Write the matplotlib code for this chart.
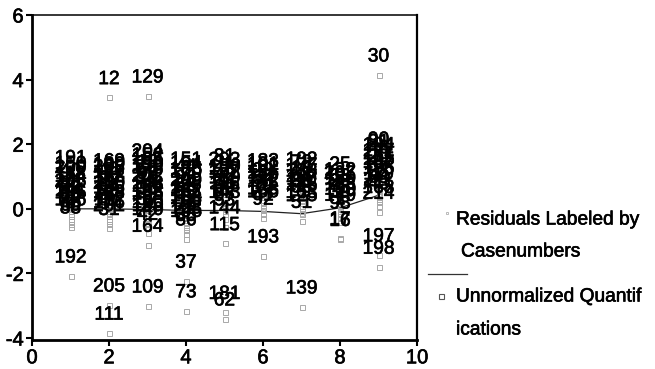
import matplotlib
matplotlib.use("Agg")
import matplotlib.pyplot as plt
import matplotlib.patheffects as pe
from matplotlib.lines import Line2D

plt.rcParams['font.family'] = ['Liberation Sans', 'DejaVu Sans']

# Category index, case numbers and residuals for each category
cat1_cases = [191, 150, 200, 40, 118, 174, 3, 206, 95, 22, 58, 141, 186, 66, 79, 126, 9, 60, 88, 192]
cat1_resid = [1.00, 0.82, 0.70, 0.60, 0.51, 0.43, 0.35, 0.27, 0.20, 0.13, 0.06, -0.01, -0.08, -0.15, -0.22, -0.30, -0.38, -0.46, -0.55, -2.07]

cat2_cases = [169, 180, 208, 45, 121, 7, 153, 99, 27, 210, 64, 136, 83, 188, 5, 47, 112, 176, 201, 31, 12, 205, 111]
cat2_resid = [0.90, 0.80, 0.72, 0.64, 0.56, 0.49, 0.42, 0.35, 0.28, 0.21, 0.14, 0.07, 0.00, -0.07, -0.14, -0.22, -0.30, -0.38, -0.48, -0.60, 3.45, -2.97, -3.84]

cat3_cases = [204, 152, 155, 13, 130, 178, 50, 93, 202, 19, 71, 148, 184, 36, 103, 165, 8, 57, 120, 199, 140, 42, 129, 164, 109]
cat3_resid = [1.20, 1.08, 0.97, 0.87, 0.78, 0.69, 0.60, 0.52, 0.44, 0.36, 0.28, 0.20, 0.12, 0.04, -0.04, -0.12, -0.20, -0.29, -0.38, -0.48, -0.60, -0.75, 3.50, -1.12, -3.00]

cat4_cases = [151, 154, 44, 135, 170, 2, 96, 209, 24, 68, 147, 182, 55, 104, 158, 11, 76, 123, 195, 35, 86, 37, 73]
cat4_resid = [0.95, 0.84, 0.74, 0.65, 0.56, 0.47, 0.39, 0.31, 0.23, 0.15, 0.07, -0.01, -0.09, -0.17, -0.26, -0.35, -0.45, -0.55, -0.66, -0.78, -0.92, -2.23, -3.15]

cat5_cases = [81, 203, 21, 100, 137, 172, 48, 189, 14, 116, 69, 6, 143, 97, 53, 144, 115, 181, 62]
cat5_resid = [1.05, 0.94, 0.84, 0.74, 0.65, 0.56, 0.47, 0.38, 0.29, 0.20, 0.11, 0.02, -0.07, -0.16, -0.30, -0.55, -1.07, -3.20, -3.40]

cat6_cases = [183, 101, 162, 29, 185, 117, 54, 142, 74, 10, 133, 166, 41, 92, 193]
cat6_resid = [0.90, 0.80, 0.71, 0.62, 0.53, 0.44, 0.36, 0.28, 0.20, 0.12, 0.04, -0.05, -0.15, -0.28, -1.45]

cat7_cases = [102, 72, 177, 18, 138, 61, 187, 110, 33, 146, 85, 4, 163, 125, 51, 139]
cat7_resid = [0.95, 0.86, 0.77, 0.68, 0.59, 0.50, 0.42, 0.34, 0.26, 0.18, 0.10, 0.02, -0.07, -0.17, -0.38, -3.03]

cat8_cases = [25, 132, 207, 63, 159, 26, 113, 78, 190, 39, 149, 1, 98, 17, 16]
cat8_resid = [0.80, 0.62, 0.52, 0.43, 0.35, 0.27, 0.19, 0.11, 0.03, -0.06, -0.16, -0.27, -0.40, -0.90, -0.94]

cat9_cases = [90, 91, 194, 46, 127, 171, 20, 105, 157, 67, 196, 28, 119, 84, 211, 43, 168, 214, 197, 198, 30]
cat9_resid = [1.57, 1.50, 1.40, 1.31, 1.22, 1.13, 1.04, 0.95, 0.86, 0.77, 0.68, 0.59, 0.50, 0.41, 0.31, 0.20, 0.08, -0.10, -1.42, -1.80, 4.15]

categories = [1, 2, 3, 4, 5, 6, 7, 8, 9]
case_groups = [cat1_cases, cat2_cases, cat3_cases, cat4_cases, cat5_cases,
               cat6_cases, cat7_cases, cat8_cases, cat9_cases]
resid_groups = [cat1_resid, cat2_resid, cat3_resid, cat4_resid, cat5_resid,
                cat6_resid, cat7_resid, cat8_resid, cat9_resid]

# Unnormalized quantification of each category
quantifications = [0.00, 0.00, -0.02, -0.05, -0.05, -0.08, -0.15, 0.03, 0.42]

x_ticks = [0, 2, 4, 6, 8, 10]
y_ticks = [-4, -2, 0, 2, 4, 6]

# slightly heavier glyph strokes for all text
heavy = [pe.withStroke(linewidth=0.45, foreground='black')]

W, H = 655, 369
fig = plt.figure(figsize=(W / 100, H / 100), dpi=100)
ax = fig.add_axes([32 / W, 1 - 340 / H, (417 - 32) / W, (340 - 15) / H])

label_fs = 13.8
for cat, cases, resid in zip(categories, case_groups, resid_groups):
    xs = [cat] * len(resid)
    ax.plot(xs, resid, linestyle='none', marker='s', markersize=3.6,
            markerfacecolor='none', markeredgecolor='#a8a8a8', markeredgewidth=0.7,
            zorder=2)
    for c, r in zip(cases, resid):
        ax.annotate(str(c), (cat, r), xytext=(0, 12.8), textcoords='offset points',
                    ha='center', va='center', fontsize=label_fs, color='black',
                    zorder=3, path_effects=heavy)

ax.plot(categories, quantifications, color='#222222', linewidth=0.9, zorder=1)
ax.plot(categories, quantifications, linestyle='none', marker='s', markersize=3.2,
        markerfacecolor='none', markeredgecolor='#b0b0b0', markeredgewidth=0.6,
        zorder=1)

ax.set_xlim(0, 10)
ax.set_ylim(-4.06, 6)
ax.set_xticks(x_ticks)
ax.set_yticks(y_ticks)
ax.set_xticklabels([str(t) for t in x_ticks])
ax.set_yticklabels([str(t) for t in y_ticks])
ax.tick_params(direction='out', length=4, width=1.5, labelsize=14.5, pad=2,
               colors='black')
for lbl in ax.get_xticklabels() + ax.get_yticklabels():
    lbl.set_path_effects(heavy)

ax.spines['left'].set_linewidth(2.0)
ax.spines['bottom'].set_linewidth(2.0)
ax.spines['top'].set_linewidth(1.1)
ax.spines['right'].set_linewidth(1.6)

# Legend placed beside the plot area
def fx(px):
    return px / W

def fy(py):
    return 1 - py / H

legend_fs = 13.8
fig.add_artist(Line2D([fx(447)], [fy(213)], marker='s', markersize=1.6,
                      markerfacecolor='none', markeredgecolor='#b0b0b0',
                      markeredgewidth=0.6, linestyle='none'))
fig.text(fx(456), fy(220), 'Residuals Labeled by', fontsize=legend_fs,
         ha='left', va='center', path_effects=heavy)
fig.text(fx(461), fy(252), 'Casenumbers', fontsize=legend_fs,
         ha='left', va='center', path_effects=heavy)
fig.add_artist(Line2D([fx(428), fx(467)], [fy(274), fy(274)], color='#333333',
                      linewidth=0.9))
fig.add_artist(Line2D([fx(441)], [fy(296)], marker='s', markersize=3.6,
                      markerfacecolor='none', markeredgecolor='#555555',
                      markeredgewidth=0.8, linestyle='none'))
fig.text(fx(456), fy(297), 'Unnormalized Quantif', fontsize=legend_fs,
         ha='left', va='center', path_effects=heavy)
fig.text(fx(456), fy(330), 'ications', fontsize=legend_fs,
         ha='left', va='center', path_effects=heavy)

fig.savefig('out.png', dpi=100, facecolor='white')
